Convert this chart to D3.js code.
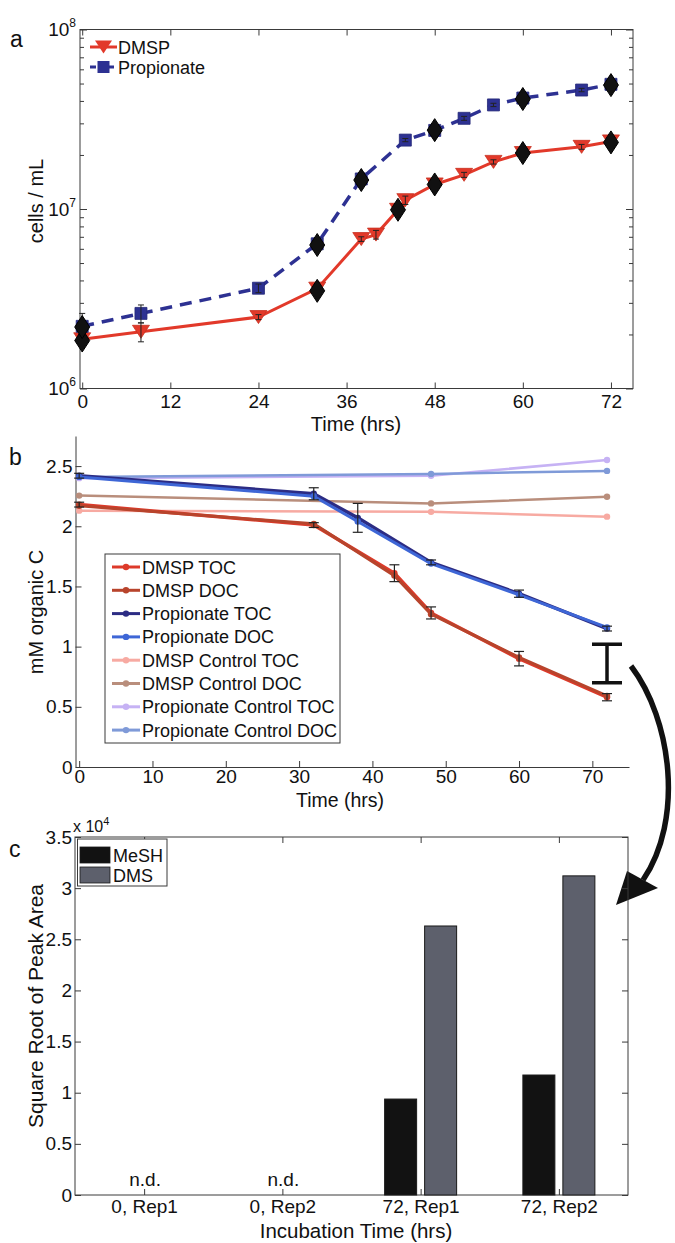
<!DOCTYPE html>
<html><head><meta charset="utf-8">
<script src="https://cdn.jsdelivr.net/npm/d3@7"></script>
<style>body{margin:0;background:#fff}svg{display:block;background:#fff}</style>
</head><body>
<svg id="chart" width="675" height="1243"></svg>
<script>
// ---------------- Panel a data ----------------
const timeDmspA = [0, 8, 24, 32, 38, 40, 43, 44, 48, 52, 56, 60, 68, 72];
const dmspCells = [1.88e6, 2.07e6, 2.5e6, 3.6e6, 6.8e6, 7.2e6, 9.9e6, 1.12e7, 1.37e7, 1.55e7, 1.83e7, 2.05e7, 2.22e7, 2.38e7];
const dmspCellsSd = [0.15e6, 0.25e6, 0.08e6, 0.15e6, 0.2e6, 0.4e6, 0.4e6, 0.6e6, 0.5e6, 0.5e6, 0.5e6, 0.6e6, 0.7e6, 0.8e6];
const timePropA = [0, 8, 24, 32, 38, 44, 48, 52, 56, 60, 68, 72];
const propCells = [2.22e6, 2.62e6, 3.62e6, 6.4e6, 1.47e7, 2.42e7, 2.74e7, 3.2e7, 3.8e7, 4.15e7, 4.6e7, 4.95e7];
const propCellsSd = [0.4e6, 0.3e6, 0.2e6, 0.4e6, 1.2e6, 0.5e6, 1.2e6, 0.8e6, 0.8e6, 2.5e6, 1.0e6, 2.5e6];
const diamondTimes = [0, 0, 32, 32, 38, 43, 48, 48, 60, 60, 72, 72];
const diamondCells = [1.85e6, 2.2e6, 3.5e6, 6.3e6, 1.45e7, 9.9e6, 1.37e7, 2.75e7, 2.05e7, 4.1e7, 2.35e7, 4.9e7];
const ticksAx = [0, 12, 24, 36, 48, 60, 72];
const ticksAyMajor = [1e6, 1e7, 1e8];
const ticksAyExp = ["6", "7", "8"];
const ticksAyMinor = [2e6,3e6,4e6,5e6,6e6,7e6,8e6,9e6,2e7,3e7,4e7,5e7,6e7,7e7,8e7,9e7];
const legendA = ["DMSP", "Propionate"];

// ---------------- Panel b data ----------------
const timeDmspB = [0, 32, 43, 48, 60, 72];
const dmspToc = [2.18, 2.01, 1.61, 1.28, 0.90, 0.58];
const dmspDoc = [2.17, 2.02, 1.59, 1.27, 0.91, 0.59];
const dmspSdB = [0.02, 0.02, 0.07, 0.05, 0.06, 0.03];
const timePropB = [0, 32, 38, 48, 60, 72];
const propToc = [2.42, 2.27, 2.07, 1.70, 1.44, 1.15];
const propDoc = [2.41, 2.25, 2.04, 1.69, 1.43, 1.16];
const propSdB = [0.02, 0.05, 0.12, 0.02, 0.03, 0.02];
const timeCtrl = [0, 48, 72];
const dmspCtrlToc = [2.13, 2.12, 2.08];
const dmspCtrlDoc = [2.255, 2.19, 2.245];
const propCtrlToc = [2.40, 2.42, 2.55];
const propCtrlDoc = [2.41, 2.435, 2.46];
const seriesNamesB = ["DMSP TOC", "DMSP DOC", "Propionate TOC", "Propionate DOC",
  "DMSP Control TOC", "DMSP Control DOC", "Propionate Control TOC", "Propionate Control DOC"];
const annotBar = {time: 72, low: 0.70, high: 1.02};
const ticksBx = [0, 10, 20, 30, 40, 50, 60, 70];
const ticksBy = [0, 0.5, 1, 1.5, 2, 2.5];

// ---------------- Panel c data ----------------
const categories = ["0, Rep1", "0, Rep2", "72, Rep1", "72, Rep2"];
const meshValues = [0, 0, 9380, 11730];
const dmsValues = [0, 0, 26300, 31200];
const ndLabels = ["n.d.", "n.d.", "", ""];
const ticksCy = [0, 5000, 10000, 15000, 20000, 25000, 30000, 35000];
const ticksCyLabels = ["0", "0.5", "1", "1.5", "2", "2.5", "3", "3.5"];
const legendC = ["MeSH", "DMS"];

// ---------------- drawing ----------------
const FONT = "'Liberation Sans', Arial, Helvetica, sans-serif";
const AXC = "#3a3a3a";
const TXT = "#111";
const TICKFS = 19;
const svg = d3.select("#chart");

function styleAxis(g) {
  g.selectAll(".domain").attr("stroke", AXC).attr("stroke-width", 1);
  g.selectAll(".tick line").attr("stroke", AXC).attr("stroke-width", 1);
  g.selectAll("text").attr("font-family", FONT).attr("font-size", TICKFS).attr("fill", TXT);
  g.attr("font-family", FONT);
}
function text(x, y, s, fs, anchor, rot) {
  const t = svg.append("text").attr("font-family", FONT).attr("font-size", fs)
    .attr("fill", TXT).attr("text-anchor", anchor || "start").text(s);
  if (rot) t.attr("transform", `translate(${x},${y}) rotate(${rot})`);
  else t.attr("x", x).attr("y", y);
  return t;
}

// ===== Panel a =====
const xA = d3.scaleLinear().domain([-0.3, 75]).range([80, 633]);
const yA = d3.scaleLog().domain([1e6, 1e8]).range([388.5, 29.5]);
const gA = svg.append("g");
gA.append("rect").attr("x", 80).attr("y", 29.5).attr("width", 553).attr("height", 359)
  .attr("fill", "none").attr("stroke", AXC).attr("stroke-width", 1);

const axA1 = gA.append("g").attr("transform", `translate(0,${yA.range()[0]})`)
  .call(d3.axisBottom(xA).tickValues(ticksAx).tickSize(-6).tickSizeOuter(0).tickPadding(6).tickFormat(d3.format("d")));
axA1.select(".domain").remove(); styleAxis(axA1);
const axA2 = gA.append("g").attr("transform", `translate(0,${yA.range()[1]})`)
  .call(d3.axisTop(xA).tickValues(ticksAx).tickSize(-6).tickSizeOuter(0).tickFormat(""));
axA2.select(".domain").remove(); styleAxis(axA2);
const axA3 = gA.append("g").attr("transform", `translate(80,0)`)
  .call(d3.axisLeft(yA).tickValues(ticksAyMajor).tickSize(-7).tickSizeOuter(0).tickPadding(4).tickFormat(""));
axA3.select(".domain").remove(); styleAxis(axA3);
axA3.selectAll(".tick text").each(function(d, i) {
  const t = d3.select(this).text(null);
  t.append("tspan").text("10");
  t.append("tspan").attr("dy", -9).attr("font-size", 12).text(ticksAyExp[i]);
});
const axA4 = gA.append("g").attr("transform", `translate(80,0)`)
  .call(d3.axisLeft(yA).tickValues(ticksAyMinor).tickSize(-4).tickSizeOuter(0).tickFormat(""));
axA4.select(".domain").remove(); styleAxis(axA4);
const axA5 = gA.append("g").attr("transform", `translate(633,0)`)
  .call(d3.axisRight(yA).tickValues(ticksAyMajor).tickSize(-7).tickSizeOuter(0).tickFormat(""));
axA5.select(".domain").remove(); styleAxis(axA5);
const axA6 = gA.append("g").attr("transform", `translate(633,0)`)
  .call(d3.axisRight(yA).tickValues(ticksAyMinor).tickSize(-4).tickSizeOuter(0).tickFormat(""));
axA6.select(".domain").remove(); styleAxis(axA6);

const RED = "#e2392a", NAVY = "#2d3192";
const lineA = d3.line().x(d => xA(d[0])).y(d => yA(d[1]));
const dmspPts = timeDmspA.map((t, i) => [t, dmspCells[i], dmspCellsSd[i]]);
const propPts = timePropA.map((t, i) => [t, propCells[i], propCellsSd[i]]);
gA.append("path").attr("d", lineA(propPts)).attr("fill", "none").attr("stroke", NAVY)
  .attr("stroke-width", 3.5).attr("stroke-dasharray", "12,8");
gA.append("path").attr("d", lineA(dmspPts)).attr("fill", "none").attr("stroke", RED).attr("stroke-width", 3);

const triPath = "M-8.5,-6.5L8.5,-6.5L0,6.5Z";
const sqPath = "M-6,-6L6,-6L6,6L-6,6Z";
const diaPath = "M0,-11.5L7.5,0L0,11.5L-7.5,0Z";
gA.selectAll(".tri").data(dmspPts).join("path").attr("d", triPath)
  .attr("transform", d => `translate(${xA(d[0])},${yA(d[1])})`).attr("fill", RED).attr("stroke", "#c8301f").attr("stroke-width", 0.8);
gA.selectAll(".sq").data(propPts).join("path").attr("d", sqPath)
  .attr("transform", d => `translate(${xA(d[0])},${yA(d[1])})`).attr("fill", NAVY).attr("stroke", "#252878").attr("stroke-width", 0.8);
function errA(pts) {
  const g = gA.append("g").attr("stroke", "#222").attr("stroke-width", 1);
  pts.forEach(d => {
    const x = xA(d[0]), y1 = yA(d[1] - d[2]), y2 = yA(d[1] + d[2]);
    g.append("line").attr("x1", x).attr("x2", x).attr("y1", y1).attr("y2", y2);
    g.append("line").attr("x1", x - 3).attr("x2", x + 3).attr("y1", y1).attr("y2", y1);
    g.append("line").attr("x1", x - 3).attr("x2", x + 3).attr("y1", y2).attr("y2", y2);
  });
}
errA(dmspPts); errA(propPts);
gA.selectAll(".dia").data(diamondTimes.map((t, i) => [t, diamondCells[i]])).join("path").attr("d", diaPath)
  .attr("transform", d => `translate(${xA(d[0])},${yA(d[1])})`).attr("fill", "#111").attr("stroke", "#000");

// legend a
[[RED, triPath, null, 47], [NAVY, sqPath, "6,3", 67]].forEach((s, i) => {
  gA.append("line").attr("x1", 90).attr("x2", 117).attr("y1", s[3]).attr("y2", s[3])
    .attr("stroke", s[0]).attr("stroke-width", 3).attr("stroke-dasharray", s[2]);
  gA.append("path").attr("d", s[1]).attr("transform", `translate(103.5,${s[3]})`).attr("fill", s[0]);
  text(118, s[3] + 6.5, legendA[i], 18);
});
text(10, 47, "a", 23);
text(356, 431, "Time (hrs)", 20, "middle");
text(43, 201, "cells / mL", 20, "middle", -90);

// ===== Panel b =====
const xB = d3.scaleLinear().domain([-0.5, 75]).range([75.5, 629]);
const yB = d3.scaleLinear().domain([0, 2.75]).range([767, 436]);
const gB = svg.append("g");
const axB1 = gB.append("g").attr("transform", `translate(0,767)`)
  .call(d3.axisBottom(xB).tickValues(ticksBx).tickSize(-6).tickSizeOuter(0).tickPadding(2.5).tickFormat(d3.format("d")));
styleAxis(axB1);
const axB2 = gB.append("g").attr("transform", `translate(75.5,0)`)
  .call(d3.axisLeft(yB).tickValues(ticksBy).tickSize(-6).tickSizeOuter(0).tickPadding(3).tickFormat(d => d3.format("")(d)));
styleAxis(axB2);

const seriesB = [
  {t: timeCtrl, v: propCtrlToc, c: "#c6b2f4", w: 2.5},
  {t: timeCtrl, v: propCtrlDoc, c: "#7f9ad8", w: 2.5},
  {t: timeCtrl, v: dmspCtrlDoc, c: "#b98e7c", w: 2.5},
  {t: timeCtrl, v: dmspCtrlToc, c: "#f7aaa2", w: 2.5},
  {t: timePropB, v: propToc, c: "#2c2c84", w: 3.5},
  {t: timePropB, v: propDoc, c: "#3e66d6", w: 3},
  {t: timeDmspB, v: dmspToc, c: "#dd3a2a", w: 3.5},
  {t: timeDmspB, v: dmspDoc, c: "#b8442c", w: 3}
];
const lineB = d3.line().x(d => xB(d[0])).y(d => yB(d[1]));
seriesB.forEach(s => {
  const pts = s.t.map((t, i) => [t, s.v[i]]);
  gB.append("path").attr("d", lineB(pts)).attr("fill", "none").attr("stroke", s.c)
    .attr("stroke-width", s.w).attr("stroke-linejoin", "round");
  gB.selectAll(null).data(pts).join("circle").attr("cx", d => xB(d[0])).attr("cy", d => yB(d[1]))
    .attr("r", 3.2).attr("fill", s.c);
});
function errB(times, vals, sds) {
  const g = gB.append("g").attr("stroke", "#222").attr("stroke-width", 1.2);
  times.forEach((t, i) => {
    const x = xB(t), y1 = yB(vals[i] - sds[i]), y2 = yB(vals[i] + sds[i]);
    g.append("line").attr("x1", x).attr("x2", x).attr("y1", y1).attr("y2", y2);
    g.append("line").attr("x1", x - 5).attr("x2", x + 5).attr("y1", y1).attr("y2", y1);
    g.append("line").attr("x1", x - 5).attr("x2", x + 5).attr("y1", y2).attr("y2", y2);
  });
}
errB(timeDmspB, dmspToc, dmspSdB);
errB(timePropB, propToc, propSdB);

// annotation bar
{
  const x = xB(annotBar.time), y1 = yB(annotBar.low), y2 = yB(annotBar.high);
  const g = gB.append("g").attr("stroke", "#111").attr("stroke-width", 3.5);
  g.append("line").attr("x1", x).attr("x2", x).attr("y1", y1).attr("y2", y2);
  g.append("line").attr("x1", x - 15).attr("x2", x + 15).attr("y1", y1).attr("y2", y1);
  g.append("line").attr("x1", x - 15).attr("x2", x + 15).attr("y1", y2).attr("y2", y2);
}

// legend b
gB.append("rect").attr("x", 105).attr("y", 554).attr("width", 235).attr("height", 189)
  .attr("fill", "#fff").attr("stroke", AXC).attr("stroke-width", 1);
const legOrder = [6, 7, 4, 5, 3, 2, 0, 1];
legOrder.forEach((si, i) => {
  const s = seriesB[si], y = 567 + i * 23.3;
  gB.append("line").attr("x1", 112).attr("x2", 140).attr("y1", y).attr("y2", y)
    .attr("stroke", s.c).attr("stroke-width", 3);
  gB.append("circle").attr("cx", 126).attr("cy", y).attr("r", 3.2).attr("fill", s.c);
  text(142, y + 6.5, seriesNamesB[i], 18);
});
text(9, 465, "b", 23);
text(340, 807, "Time (hrs)", 19.5, "middle");
text(43, 612, "mM organic C", 20, "middle", -90);

// arrow
svg.append("path").attr("d", "M631,666 C672,720 684,820 643,880").attr("fill", "none")
  .attr("stroke", "#111").attr("stroke-width", 5.5);
svg.append("path").attr("d", "M616,905 L627,871 L658,888 Z").attr("fill", "#111");

// ===== Panel c =====
const xC = d3.scaleLinear().domain([0.5, 4.5]).range([75, 628]);
const yC = d3.scaleLinear().domain([0, 35000]).range([1195, 837]);
const inner = d3.scaleBand().domain(legendC).range([-36, 36]).paddingInner(0.2).paddingOuter(0);
const gC = svg.append("g");
gC.append("rect").attr("x", 75).attr("y", 837).attr("width", 553).attr("height", 358)
  .attr("fill", "none").attr("stroke", AXC).attr("stroke-width", 1);
const catIdx = categories.map((c, i) => i + 1);
const axC1 = gC.append("g").attr("transform", `translate(0,1195)`)
  .call(d3.axisBottom(xC).tickValues(catIdx).tickSize(-6).tickSizeOuter(0).tickPadding(5).tickFormat((d, i) => categories[i]));
axC1.select(".domain").remove(); styleAxis(axC1);
const axC2 = gC.append("g").attr("transform", `translate(0,837)`)
  .call(d3.axisTop(xC).tickValues(catIdx).tickSize(-6).tickSizeOuter(0).tickFormat(""));
axC2.select(".domain").remove(); styleAxis(axC2);
const axC3 = gC.append("g").attr("transform", `translate(75,0)`)
  .call(d3.axisLeft(yC).tickValues(ticksCy).tickSize(-6).tickSizeOuter(0).tickPadding(3).tickFormat((d, i) => ticksCyLabels[i]));
axC3.select(".domain").remove(); styleAxis(axC3);
const axC4 = gC.append("g").attr("transform", `translate(628,0)`)
  .call(d3.axisRight(yC).tickValues(ticksCy).tickSize(-6).tickSizeOuter(0).tickFormat(""));
axC4.select(".domain").remove(); styleAxis(axC4);

const barColors = {MeSH: "#121212", DMS: "#5d606c"};
const barData = [];
categories.forEach((c, i) => {
  barData.push({cat: i + 1, key: "MeSH", v: meshValues[i]});
  barData.push({cat: i + 1, key: "DMS", v: dmsValues[i]});
});
gC.selectAll(".bar").data(barData.filter(d => d.v > 0)).join("rect")
  .attr("x", d => xC(d.cat) + inner(d.key)).attr("width", inner.bandwidth())
  .attr("y", d => yC(d.v)).attr("height", d => yC(0) - yC(d.v))
  .attr("fill", d => barColors[d.key]).attr("stroke", "#1a1a1a").attr("stroke-width", 1);
ndLabels.forEach((s, i) => { if (s) text(xC(i + 1) + 1, 1186, s, 19, "middle"); });

// legend c
gC.append("rect").attr("x", 77.5).attr("y", 839).attr("width", 89.5).attr("height", 47)
  .attr("fill", "#fff").attr("stroke", AXC).attr("stroke-width", 1);
legendC.forEach((k, i) => {
  const y = 847 + i * 20;
  gC.append("rect").attr("x", 80).attr("y", y).attr("width", 30).attr("height", 16)
    .attr("fill", barColors[k]).attr("stroke", "#1a1a1a").attr("stroke-width", 0.8);
  text(113, y + 15, k, 18);
});
{
  const t = text(73, 832, "", 16);
  t.append("tspan").text("x 10");
  t.append("tspan").attr("dy", -7).attr("font-size", 11).text("4");
}
text(9, 857, "c", 23);
text(356, 1238, "Incubation Time (hrs)", 20.5, "middle");
text(43, 1006, "Square Root of Peak Area", 21, "middle", -90);
</script>
</body></html>
